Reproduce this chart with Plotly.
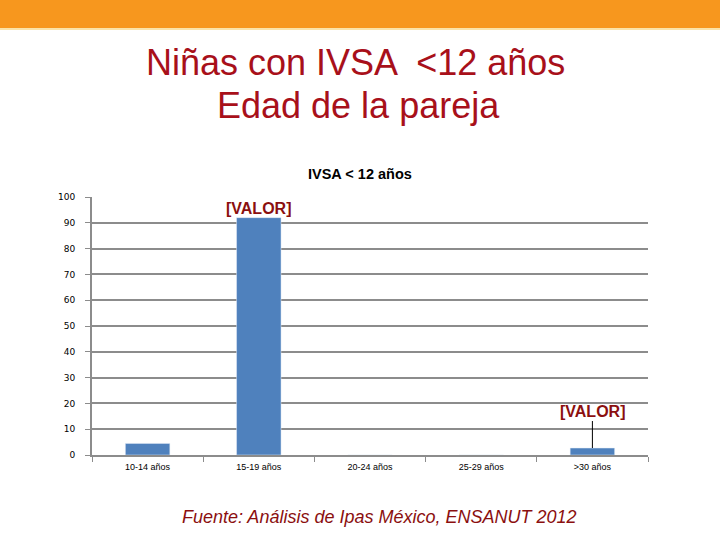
import plotly.graph_objects as go

categories = ["10-14 años", "15-19 años", "20-24 años", "25-29 años", ">30 años"]
values = [4.5, 92, 0, 0, 2.7]
label_text = "[VALOR]"
y_ticks = [0, 10, 20, 30, 40, 50, 60, 70, 80, 90, 100]

W, H = 720, 540
ML, MR, MT, MB = 92, 72, 197, 85
PH = H - MT - MB
PW = W - ML - MR

fig = go.Figure()
fig.add_trace(go.Bar(x=categories, y=values, marker_color="#4F81BD", width=0.4))

label_font = dict(family="Liberation Sans, Arial", size=16, color="#8B0F0F")
fig.add_annotation(x=categories[1], y=values[1], text="<b>" + label_text + "</b>", showarrow=False,
                   yanchor="bottom", yshift=-1, font=label_font)
fig.add_annotation(x=categories[4], y=values[4], text="<b>" + label_text + "</b>", showarrow=True,
                   arrowhead=0, arrowwidth=1, arrowcolor="black", ax=0, ay=-37, font=label_font)

titles = [
    ("Niñas con IVSA  <12 años", 355, 62, 36, "Liberation Sans, Arial", "#A8101A"),
    ("Edad de la pareja", 358, 105, 36, "Liberation Sans, Arial", "#A8101A"),
    ("<b>IVSA < 12 años</b>", 360, 174, 14.5, "Liberation Sans, Arial", "#000000"),
    ("<i>Fuente: Análisis de Ipas México, ENSANUT 2012</i>", 379, 517, 18, "Liberation Sans, Arial", "#8B0F0F"),
]
for text, xpx, ypx, size, fam, color in titles:
    yp = (H - MB - ypx) / PH
    xp = (xpx - ML) / PW
    fig.add_annotation(xref="paper", yref="paper", x=xp, xanchor="center", y=yp, yanchor="middle",
                       text=text, showarrow=False, font=dict(family=fam, size=size, color=color))

fig.add_shape(type="rect", xref="paper", yref="paper", x0=-0.3, x1=1.3,
              y0=(H - MB - 28) / PH, y1=(H - MB + 10) / PH,
              fillcolor="#F7971E", line_width=0, layer="above")
fig.add_shape(type="rect", xref="paper", yref="paper", x0=-0.3, x1=1.3,
              y0=(H - MB - 30) / PH, y1=(H - MB - 28) / PH,
              fillcolor="#FBE3A8", line_width=0, layer="above")

fig.update_layout(
    width=W, height=H,
    margin=dict(l=ML, r=MR, t=MT, b=MB),
    paper_bgcolor="white", plot_bgcolor="white",
    showlegend=False,
    xaxis=dict(showgrid=False, showline=True, linecolor="#8C8C8C", linewidth=2,
               ticks="outside", tickson="boundaries", ticklen=5, tickcolor="#8C8C8C",
               ticklabelstandoff=2,
               tickfont=dict(family="Liberation Sans Narrow, Arial", size=9, color="black")),
    yaxis=dict(range=[0, 100], tickvals=y_ticks, showgrid=True, gridcolor="#8C8C8C", gridwidth=2,
               showline=True, linecolor="#8C8C8C", linewidth=2, ticks="outside", ticklen=5,
               tickcolor="#8C8C8C", zeroline=False, ticklabelstandoff=8,
               tickfont=dict(family="DejaVu Sans, Verdana", size=9, color="black")),
)

fig.write_html("out.html", config={"displayModeBar": False},
               post_script="document.body.style.margin='0';document.body.style.padding='0';")
